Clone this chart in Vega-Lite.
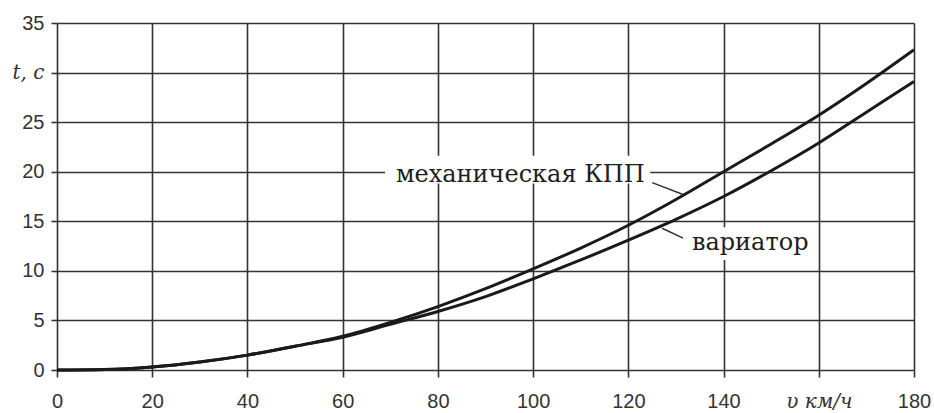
{
  "$schema": "https://vega.github.io/schema/vega-lite/v6.json",
  "autosize": "none",
  "width": 857,
  "height": 347,
  "padding": {"left": 57, "top": 23, "right": 20, "bottom": 43},
  "background": "white",
  "config": {"view": {"stroke": null}},
  "datasets": {
    "curves": [
      {"v": 0, "t": 0, "s": "mech"}, {"v": 10, "t": 0.05, "s": "mech"}, {"v": 20, "t": 0.3, "s": "mech"},
      {"v": 30, "t": 0.8, "s": "mech"}, {"v": 40, "t": 1.5, "s": "mech"}, {"v": 50, "t": 2.4, "s": "mech"},
      {"v": 60, "t": 3.4, "s": "mech"}, {"v": 70, "t": 4.8, "s": "mech"}, {"v": 80, "t": 6.4, "s": "mech"},
      {"v": 90, "t": 8.2, "s": "mech"}, {"v": 100, "t": 10.2, "s": "mech"}, {"v": 110, "t": 12.3, "s": "mech"},
      {"v": 120, "t": 14.6, "s": "mech"}, {"v": 130, "t": 17.2, "s": "mech"}, {"v": 140, "t": 20.0, "s": "mech"},
      {"v": 150, "t": 22.8, "s": "mech"}, {"v": 160, "t": 25.7, "s": "mech"}, {"v": 170, "t": 28.9, "s": "mech"},
      {"v": 180, "t": 32.3, "s": "mech"},
      {"v": 0, "t": 0, "s": "var"}, {"v": 10, "t": 0.05, "s": "var"}, {"v": 20, "t": 0.3, "s": "var"},
      {"v": 30, "t": 0.8, "s": "var"}, {"v": 40, "t": 1.5, "s": "var"}, {"v": 50, "t": 2.4, "s": "var"},
      {"v": 60, "t": 3.3, "s": "var"}, {"v": 70, "t": 4.6, "s": "var"}, {"v": 80, "t": 5.9, "s": "var"},
      {"v": 90, "t": 7.4, "s": "var"}, {"v": 100, "t": 9.2, "s": "var"}, {"v": 110, "t": 11.1, "s": "var"},
      {"v": 120, "t": 13.1, "s": "var"}, {"v": 130, "t": 15.2, "s": "var"}, {"v": 140, "t": 17.5, "s": "var"},
      {"v": 150, "t": 20.1, "s": "var"}, {"v": 160, "t": 22.9, "s": "var"}, {"v": 170, "t": 26.0, "s": "var"},
      {"v": 180, "t": 29.1, "s": "var"}
    ],
    "labels": [
      {"label": "механическая КПП", "x": 97.3, "y": 19.0, "bx1": 68.9, "bx2": 124.6, "by1": 18.8, "by2": 21.6, "lx1": 125.0, "ly1": 18.9, "lx2": 131.5, "ly2": 17.7},
      {"label": "вариатор", "x": 145.6, "y": 12.1, "bx1": 132.6, "bx2": 158.6, "by1": 11.1, "by2": 14.4, "lx1": 127.1, "ly1": 14.3, "lx2": 131.5, "ly2": 13.3}
    ]
  },
  "layer": [
    {
      "data": {"name": "labels"},
      "mark": {"type": "rect", "fill": "white"},
      "encoding": {
        "x": {"field": "bx1", "type": "quantitative", "scale": {"domain": [0, 180], "nice": false},
          "axis": {
            "values": [0, 20, 40, 60, 80, 100, 120, 140, 160, 180],
            "title": null, "grid": true, "gridColor": "#333", "gridWidth": 1.6,
            "domain": false, "ticks": true, "tickSize": 7, "tickColor": "#333", "tickWidth": 1.6,
            "labelFont": {"condition": {"test": "datum.value == 160", "value": "DejaVu Serif"}, "value": "Liberation Sans"},
            "labelFontStyle": {"condition": {"test": "datum.value == 160", "value": "italic"}, "value": "normal"},
            "labelFontSize": 20, "labelColor": "#333", "labelPadding": 14, "labelFlush": false,
            "labelExpr": "datum.value == 160 ? 'υ км/ч' : datum.label"
          }},
        "x2": {"field": "bx2"},
        "y": {"field": "by1", "type": "quantitative", "scale": {"domain": [0, 35], "nice": false},
          "axis": {
            "values": [0, 5, 10, 15, 20, 25, 30, 35],
            "title": null, "grid": true, "gridColor": "#333", "gridWidth": 1.6,
            "domain": false, "ticks": true, "tickSize": 6, "tickColor": "#333", "tickWidth": 1.6,
            "labelFont": {"condition": {"test": "datum.value == 30", "value": "DejaVu Serif"}, "value": "Liberation Sans"},
            "labelFontStyle": {"condition": {"test": "datum.value == 30", "value": "italic"}, "value": "normal"},
            "labelFontSize": 20, "labelColor": "#333", "labelPadding": 7, "labelFlush": false,
            "labelExpr": "datum.value == 30 ? 't, c' : datum.label"
          }},
        "y2": {"field": "by2"}
      }
    },
    {
      "data": {"name": "labels"},
      "mark": {"type": "rule", "color": "#333", "strokeWidth": 1.5},
      "encoding": {
        "x": {"field": "lx1", "type": "quantitative"},
        "x2": {"field": "lx2"},
        "y": {"field": "ly1", "type": "quantitative"},
        "y2": {"field": "ly2"}
      }
    },
    {
      "data": {"name": "labels"},
      "mark": {"type": "text", "font": "DejaVu Serif", "fontSize": 24, "color": "#1e1e1e", "align": "center", "baseline": "alphabetic"},
      "encoding": {
        "x": {"field": "x", "type": "quantitative"},
        "y": {"field": "y", "type": "quantitative"},
        "text": {"field": "label"}
      }
    },
    {
      "data": {"name": "curves"},
      "mark": {"type": "line", "color": "#1a1a1a", "strokeWidth": 3, "interpolate": "monotone"},
      "encoding": {
        "x": {"field": "v", "type": "quantitative"},
        "y": {"field": "t", "type": "quantitative"},
        "detail": {"field": "s"}
      }
    }
  ]
}
